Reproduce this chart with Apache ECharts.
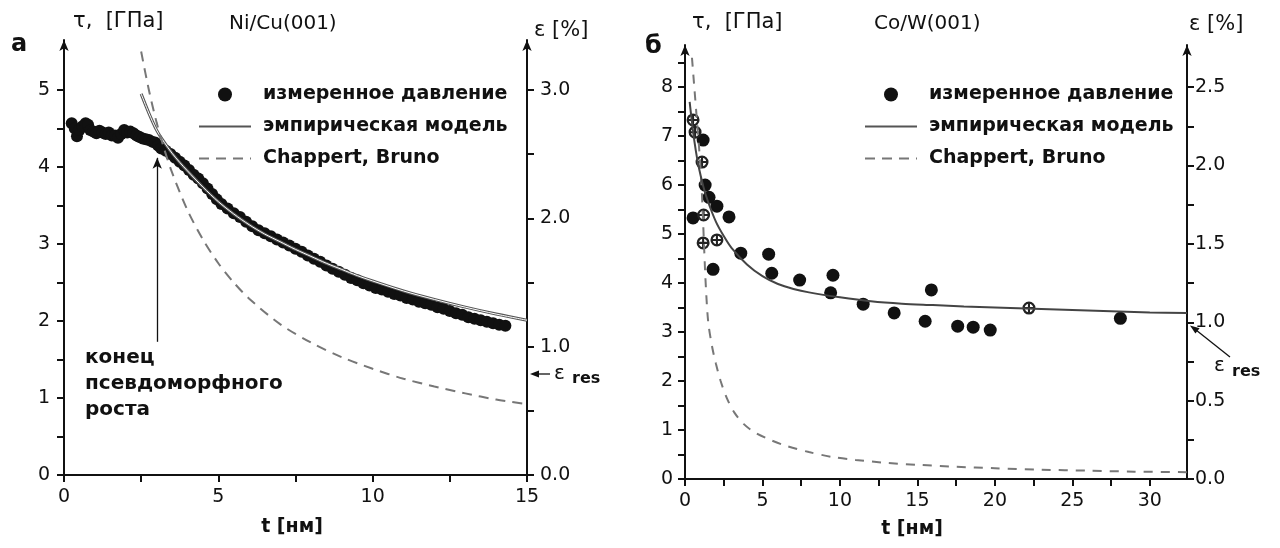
<!DOCTYPE html>
<html>
<head>
<meta charset="utf-8">
<title>Ni/Cu(001), Co/W(001)</title>
<script src="https://cdn.jsdelivr.net/npm/echarts@6.0.0/dist/echarts.min.js"></script>
<style>
  html, body { margin: 0; padding: 0; background: #fff; }
  #chart { width: 1280px; height: 548px; }
</style>
</head>
<body>
<div id="chart"></div>
<script>
// ---- panel а: Ni/Cu(001) ----
var niMeasT = [0.25, 0.35, 0.42, 0.5, 0.6, 0.7, 0.78, 0.85, 0.95, 1.05,
  1.15, 1.25, 1.35, 1.45, 1.55, 1.65, 1.75, 1.85, 1.95, 2.05,
  2.15, 2.25, 2.35, 2.45, 2.55, 2.65, 2.75, 2.85, 2.95, 3.05,
  3.15, 3.3, 3.45, 3.6, 3.75, 3.9, 4.05, 4.2, 4.35, 4.5,
  4.65, 4.8, 4.95, 5.1, 5.3, 5.5, 5.7, 5.9, 6.1, 6.3,
  6.5, 6.7, 6.9, 7.1, 7.3, 7.5, 7.7, 7.9, 8.1, 8.3,
  8.5, 8.7, 8.9, 9.1, 9.3, 9.5, 9.7, 9.9, 10.1, 10.3,
  10.5, 10.7, 10.9, 11.1, 11.3, 11.5, 11.7, 11.9, 12.1, 12.3,
  12.5, 12.7, 12.9, 13.1, 13.3, 13.5, 13.7, 13.9, 14.1, 14.3]
var niMeasTau = [4.57, 4.50, 4.40, 4.48, 4.53, 4.57, 4.55, 4.48, 4.46, 4.44,
  4.47, 4.45, 4.43, 4.45, 4.41, 4.41, 4.38, 4.43, 4.48, 4.45,
  4.46, 4.44, 4.41, 4.39, 4.37, 4.36, 4.35, 4.33, 4.32, 4.28,
  4.24, 4.21, 4.17, 4.12, 4.07, 4.02, 3.96, 3.90, 3.85, 3.79,
  3.72, 3.65, 3.58, 3.52, 3.46, 3.40, 3.35, 3.29, 3.23, 3.18,
  3.14, 3.10, 3.06, 3.02, 2.98, 2.94, 2.90, 2.85, 2.81, 2.77,
  2.72, 2.68, 2.64, 2.60, 2.56, 2.53, 2.49, 2.46, 2.43, 2.41,
  2.38, 2.35, 2.33, 2.30, 2.28, 2.25, 2.23, 2.21, 2.18, 2.16,
  2.13, 2.10, 2.08, 2.05, 2.03, 2.01, 1.99, 1.97, 1.95, 1.94]
var niModelT = [2.5, 2.75, 3.0, 3.25, 3.5, 3.75, 4.0, 4.5, 5.0, 5.5, 6.0, 6.5, 7.0, 7.5, 8.0, 8.5, 9.0, 9.5, 10, 11, 12, 13, 14, 15]
var niModelTau = [4.95, 4.70, 4.48, 4.32, 4.18, 4.06, 3.95, 3.74, 3.55, 3.39, 3.25, 3.13, 3.03, 2.93, 2.84, 2.75, 2.67, 2.59, 2.52, 2.39, 2.28, 2.18, 2.09, 2.01]
var niChapT = [2.5, 2.75, 3.0, 3.25, 3.5, 4.0, 4.5, 5.0, 5.5, 6.0, 7.0, 8.0, 9.0, 10, 11, 12, 13, 14, 15]
var niChapTau = [5.5, 5.0, 4.58, 4.23, 3.93, 3.44, 3.06, 2.75, 2.5, 2.29, 1.96, 1.72, 1.53, 1.38, 1.25, 1.15, 1.06, 0.98, 0.92]
var niPseudoEnd = [3.02, 1.73, 4.12] // t, arrow foot, arrow tip

// ---- panel б: Co/W(001) ----
var coMeasT = [0.52, 1.17, 1.3, 1.55, 2.06, 2.84, 1.81, 3.6, 5.4, 5.6, 7.4, 9.4, 9.55, 11.5, 13.5, 15.5, 15.9, 17.6, 18.6, 19.7, 28.1]
var coMeasTau = [5.33, 6.92, 6.0, 5.75, 5.57, 5.35, 4.28, 4.61, 4.59, 4.2, 4.06, 3.8, 4.16, 3.57, 3.39, 3.22, 3.86, 3.12, 3.1, 3.04, 3.28]
var coCrossT = [0.52, 0.65, 1.1, 1.2, 1.17, 2.06, 22.2]
var coCrossTau = [7.33, 7.08, 6.47, 5.39, 4.82, 4.88, 3.49]
var coModelT = [0.3, 0.5, 0.7, 0.9, 1.2, 1.5, 2, 2.5, 3, 4, 5, 6, 7, 8, 10, 12, 14, 16, 18, 20, 22, 24, 26, 28, 30, 32.4]
var coModelTau = [7.7, 7.15, 6.7, 6.35, 5.95, 5.65, 5.25, 4.96, 4.72, 4.38, 4.14, 3.98, 3.88, 3.81, 3.71, 3.63, 3.58, 3.55, 3.52, 3.50, 3.48, 3.46, 3.44, 3.42, 3.40, 3.39]
var coChapT = [0.45, 0.6, 0.75, 0.9, 1.05, 1.15, 1.25, 1.35, 1.5, 1.75, 2.0, 2.3, 2.7, 3.2, 3.8, 4.5, 5.5, 6.5, 8, 9.5, 11, 13, 15, 17.5, 20, 23, 26, 29, 32.4]
var coChapTau = [8.6, 8.0, 7.4, 6.8, 6.1, 5.4, 4.6, 3.9, 3.2, 2.7, 2.35, 2.0, 1.65, 1.35, 1.12, 0.95, 0.8, 0.68, 0.55, 0.45, 0.39, 0.33, 0.29, 0.25, 0.22, 0.19, 0.17, 0.15, 0.14]

// ticks / labels
var niXTicks = [0, 2.5, 5, 7.5, 10, 12.5, 15]
var niXLabels = [0, 5, 10, 15]
var niTauTicks = [0, 0.5, 1, 1.5, 2, 2.5, 3, 3.5, 4, 4.5, 5]
var niTauLabels = [0, 1, 2, 3, 4, 5]
var niEpsTicks = [0, 0.5, 1, 1.5, 2, 2.5, 3]
var niEpsLabels = [0, 1, 2, 3]
var coXTicks = [0, 2.5, 5, 7.5, 10, 12.5, 15, 17.5, 20, 22.5, 25, 27.5, 30]
var coXLabels = [0, 5, 10, 15, 20, 25, 30]
var coTauTicks = [0, 0.5, 1, 1.5, 2, 2.5, 3, 3.5, 4, 4.5, 5, 5.5, 6, 6.5, 7, 7.5, 8, 8.5]
var coTauLabels = [0, 1, 2, 3, 4, 5, 6, 7, 8]
var coEpsTicks = [0, 0.25, 0.5, 0.75, 1, 1.25, 1.5, 1.75, 2, 2.25, 2.5]
var coEpsLabels = [0, 0.5, 1, 1.5, 2, 2.5]

var legendNames = ['измеренное давление', 'эмпирическая модель', 'Chappert, Bruno']

function pairs(xs, ys) {
  return xs.map(function (x, i) { return [x, ys[i]] })
}

var FONT = 'DejaVu Sans'
var INK = '#111'

function axis(opt) {
  var a = {
    type: 'value',
    gridIndex: opt.grid,
    min: opt.min,
    max: opt.max,
    position: opt.position,
    splitLine: { show: false },
    axisLine: { show: true, onZero: false, lineStyle: { color: INK, width: 2 } },
    axisTick: { show: true, customValues: opt.ticks, length: 7, lineStyle: { color: INK, width: 2 } },
    axisLabel: {
      customValues: opt.labels,
      color: INK,
      fontFamily: FONT,
      fontSize: 19,
      margin: opt.margin,
      formatter: opt.formatter
    }
  }
  if (opt.arrow) {
    a.axisLine.symbol = ['none', 'arrow']
    a.axisLine.symbolSize = [7, 11]
  }
  return a
}

var fix1 = function (v) { return v.toFixed(1) }

var crossSymbol = 'path://M0,-10A10,10,0,1,1,0,10A10,10,0,1,1,0,-10ZM0,-6.5A6.5,6.5,0,1,0,0,6.5A6.5,6.5,0,1,0,0,-6.5ZM-1.6,-6.5h3.2v13h-3.2ZM-6.5,-1.6h13v3.2h-13Z'

var chart = echarts.init(document.getElementById('chart'))

function legendOf(left) {
  return {
    left: left,
    top: 85,
    padding: 0,
    orient: 'vertical',
    itemWidth: 52,
    itemHeight: 14,
    itemGap: 13,
    selectedMode: false,
    data: [
      { name: legendNames[0] },
      { name: legendNames[1], itemStyle: { opacity: 0 }, lineStyle: { width: 2 } },
      { name: legendNames[2], itemStyle: { opacity: 0 } }
    ],
    textStyle: { fontFamily: FONT, fontSize: 19, fontWeight: 'bold', color: INK, lineHeight: 19, padding: [0, 0, 0, 7] }
  }
}

function txt(x, y, text, font, extra) {
  var s = { text: text, font: font, fill: INK, textVerticalAlign: 'middle' }
  if (extra) for (var k in extra) s[k] = extra[k]
  return { type: 'text', x: x, y: y, style: s, silent: true }
}

chart.setOption({
  animation: false,
  backgroundColor: '#fff',
  textStyle: { fontFamily: FONT },
  grid: [
    { left: 64, right: 753, top: 40, bottom: 73 },
    { left: 685, right: 93, top: 45, bottom: 69 }
  ],
  xAxis: [
    axis({ grid: 0, min: 0, max: 15, ticks: niXTicks, labels: niXLabels, margin: 13 }),
    axis({ grid: 1, min: 0, max: 32.4, ticks: coXTicks, labels: coXLabels, margin: 13 })
  ],
  yAxis: [
    axis({ grid: 0, min: 0, max: 5.65, position: 'left', ticks: niTauTicks, labels: niTauLabels, arrow: true, margin: 14 }),
    axis({ grid: 0, min: 0, max: 3.39, position: 'right', ticks: niEpsTicks, labels: niEpsLabels, arrow: true, margin: 13, formatter: fix1 }),
    axis({ grid: 1, min: 0, max: 8.86, position: 'left', ticks: coTauTicks, labels: coTauLabels, arrow: true, margin: 12 }),
    axis({ grid: 1, min: 0, max: 2.769, position: 'right', ticks: coEpsTicks, labels: coEpsLabels, arrow: true, margin: 8, formatter: fix1 })
  ],
  legend: [legendOf(198), legendOf(864)],
  series: [
    {
      name: legendNames[0],
      type: 'scatter',
      xAxisIndex: 0, yAxisIndex: 0,
      symbol: 'circle',
      symbolSize: 12,
      itemStyle: { color: '#111', opacity: 1 },
      data: pairs(niMeasT, niMeasTau),
      markLine: {
        silent: true,
        symbol: ['none', 'arrow'],
        symbolSize: [7, 11],
        label: { show: false },
        lineStyle: { color: INK, width: 1.3, type: 'solid' },
        data: [[{ coord: [niPseudoEnd[0], niPseudoEnd[1]] }, { coord: [niPseudoEnd[0], niPseudoEnd[2]] }]]
      }
    },
    {
      name: legendNames[1],
      type: 'line',
      xAxisIndex: 0, yAxisIndex: 0,
      symbol: 'none',
      smooth: 0.3,
      lineStyle: { color: '#555', width: 3 },
      data: pairs(niModelT, niModelTau)
    },
    {
      name: 'model-core',
      type: 'line',
      xAxisIndex: 0, yAxisIndex: 0,
      symbol: 'none',
      smooth: 0.3,
      lineStyle: { color: '#fff', width: 1 },
      data: pairs(niModelT, niModelTau)
    },
    {
      name: legendNames[2],
      type: 'line',
      xAxisIndex: 0, yAxisIndex: 0,
      symbol: 'none',
      smooth: 0.3,
      lineStyle: { color: '#777', width: 2, type: [10, 7] },
      data: pairs(niChapT, niChapTau)
    },
    {
      name: legendNames[2],
      type: 'line',
      xAxisIndex: 1, yAxisIndex: 2,
      symbol: 'none',
      smooth: 0.3,
      lineStyle: { color: '#777', width: 2, type: [9, 8] },
      data: pairs(coChapT, coChapTau)
    },
    {
      name: legendNames[1],
      type: 'line',
      xAxisIndex: 1, yAxisIndex: 2,
      symbol: 'none',
      smooth: 0.3,
      lineStyle: { color: '#444', width: 2 },
      data: pairs(coModelT, coModelTau)
    },
    {
      name: legendNames[0],
      type: 'scatter',
      xAxisIndex: 1, yAxisIndex: 2,
      symbol: 'circle',
      symbolSize: 13,
      itemStyle: { color: '#111', opacity: 1 },
      data: pairs(coMeasT, coMeasTau)
    },
    {
      name: 'crossed',
      type: 'scatter',
      xAxisIndex: 1, yAxisIndex: 2,
      symbol: crossSymbol,
      symbolSize: 13,
      itemStyle: { color: '#222', opacity: 1 },
      data: pairs(coCrossT, coCrossTau)
    }
  ],
  graphic: [
    txt(11, 45, 'а', 'bold 24px "DejaVu Sans"'),
    txt(73, 22, 'τ,  [ГПа]', '21px "DejaVu Sans"'),
    txt(229, 24, 'Ni/Cu(001)', '20px "DejaVu Sans"'),
    txt(534, 31, 'ε [%]', '21px "DejaVu Sans"'),
    txt(292, 527, 't [нм]', 'bold 19px "DejaVu Sans"', { textAlign: 'center' }),
    txt(85, 345, 'конец\nпсевдоморфного\nроста', 'bold 20px "DejaVu Sans"', { textVerticalAlign: 'top', lineHeight: 26 }),
    { type: 'line', silent: true, shape: { x1: 550, y1: 374, x2: 536, y2: 374 }, style: { stroke: INK, lineWidth: 1.3 } },
    { type: 'polygon', silent: true, shape: { points: [[530, 374], [539, 370.5], [539, 377.5]] }, style: { fill: INK } },
    txt(554, 374, 'ε', '20px "DejaVu Sans"'),
    txt(572, 379, 'res', 'bold 16px "DejaVu Sans"'),

    txt(645, 47, 'б', 'bold 24px "DejaVu Sans"'),
    txt(692, 23, 'τ,  [ГПа]', '21px "DejaVu Sans"'),
    txt(874, 24, 'Co/W(001)', '20px "DejaVu Sans"'),
    txt(1189, 25, 'ε [%]', '21px "DejaVu Sans"'),
    txt(912, 529, 't [нм]', 'bold 19px "DejaVu Sans"', { textAlign: 'center' }),
    { type: 'line', silent: true, shape: { x1: 1230, y1: 357, x2: 1196, y2: 330 }, style: { stroke: INK, lineWidth: 1.3 } },
    { type: 'polygon', silent: true, shape: { points: [[1190, 325.5], [1195.4, 333.5], [1199.6, 328.2]] }, style: { fill: INK } },
    txt(1214, 366, 'ε', '20px "DejaVu Sans"'),
    txt(1232, 372, 'res', 'bold 16px "DejaVu Sans"')
  ]
})
</script>
</body>
</html>
